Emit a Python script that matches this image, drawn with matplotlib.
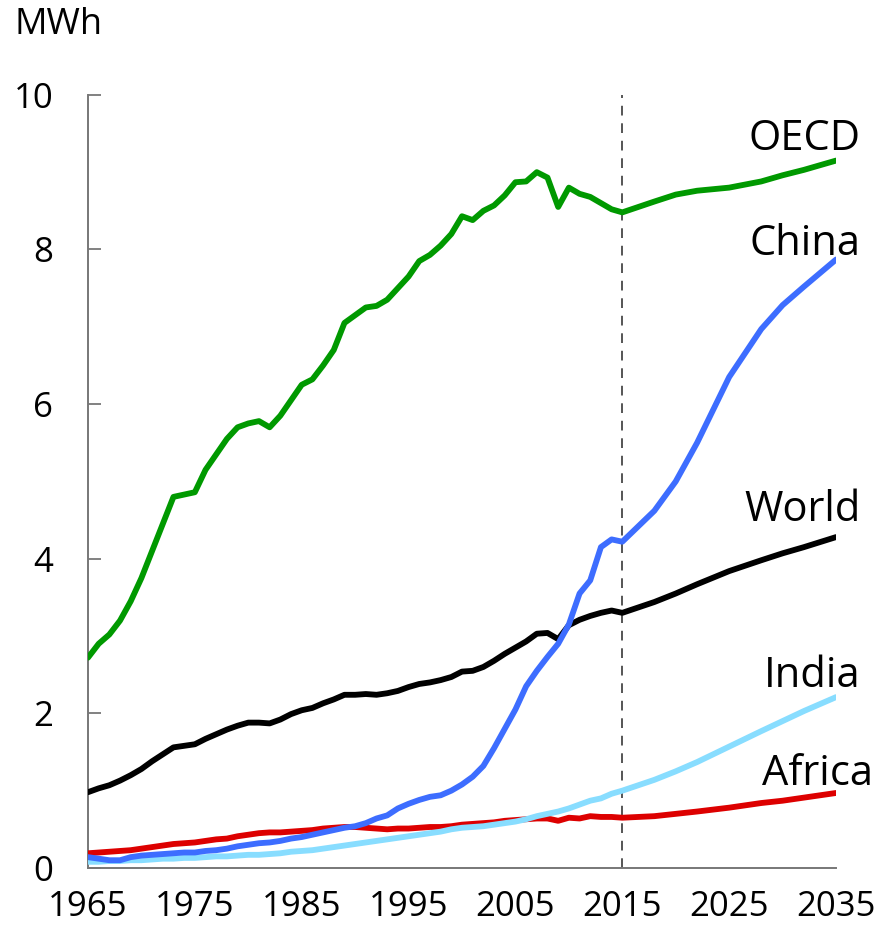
import matplotlib
matplotlib.use("Agg")
import matplotlib.pyplot as plt
import numpy as np

plt.rcParams['font.family'] = ['Open Sans', 'DejaVu Sans']

# historical years 1965-2015, then outlook points
years = list(range(1965, 2016)) + [2018, 2020, 2022, 2025, 2028, 2030, 2032, 2035]

oecd = [2.72, 2.90, 3.02, 3.20, 3.45, 3.75, 4.10, 4.45, 4.80, 4.83, 4.86,
        5.15, 5.35, 5.55, 5.70, 5.75, 5.78, 5.70, 5.85, 6.05, 6.25,
        6.32, 6.50, 6.70, 7.05, 7.15, 7.25, 7.27, 7.35, 7.50, 7.65,
        7.85, 7.93, 8.05, 8.20, 8.43, 8.38, 8.50, 8.57, 8.70, 8.87,
        8.88, 9.00, 8.93, 8.55, 8.80, 8.72, 8.68, 8.60, 8.52, 8.48,
        8.62, 8.71, 8.76, 8.80, 8.88, 8.96, 9.03, 9.15]
china = [0.14, 0.12, 0.10, 0.10, 0.14, 0.16, 0.17, 0.18, 0.19, 0.20, 0.20,
         0.22, 0.23, 0.25, 0.28, 0.30, 0.32, 0.33, 0.35, 0.38, 0.40,
         0.43, 0.46, 0.49, 0.52, 0.54, 0.58, 0.64, 0.68, 0.77, 0.83,
         0.88, 0.92, 0.94, 1.00, 1.08, 1.18, 1.32, 1.55, 1.80, 2.05,
         2.35, 2.55, 2.73, 2.90, 3.15, 3.55, 3.72, 4.15, 4.25, 4.22,
         4.62, 5.00, 5.50, 6.35, 6.97, 7.28, 7.52, 7.87]
world = [0.98, 1.03, 1.07, 1.13, 1.20, 1.28, 1.38, 1.47, 1.56, 1.58, 1.60,
         1.67, 1.73, 1.79, 1.84, 1.88, 1.88, 1.87, 1.92, 1.99, 2.04,
         2.07, 2.13, 2.18, 2.24, 2.24, 2.25, 2.24, 2.26, 2.29, 2.34,
         2.38, 2.40, 2.43, 2.47, 2.54, 2.55, 2.60, 2.68, 2.77, 2.85,
         2.93, 3.03, 3.04, 2.96, 3.14, 3.21, 3.26, 3.30, 3.33, 3.30,
         3.44, 3.55, 3.67, 3.84, 3.98, 4.07, 4.15, 4.28]
india = [0.08, 0.08, 0.09, 0.09, 0.10, 0.10, 0.11, 0.12, 0.12, 0.13, 0.13,
         0.14, 0.15, 0.15, 0.16, 0.17, 0.17, 0.18, 0.19, 0.21, 0.22,
         0.23, 0.25, 0.27, 0.29, 0.31, 0.33, 0.35, 0.37, 0.39, 0.41,
         0.43, 0.45, 0.47, 0.50, 0.52, 0.53, 0.54, 0.56, 0.58, 0.60,
         0.63, 0.67, 0.70, 0.73, 0.77, 0.82, 0.87, 0.90, 0.96, 1.00,
         1.14, 1.25, 1.37, 1.57, 1.77, 1.90, 2.03, 2.21]
africa = [0.19, 0.20, 0.21, 0.22, 0.23, 0.25, 0.27, 0.29, 0.31, 0.32, 0.33,
          0.35, 0.37, 0.38, 0.41, 0.43, 0.45, 0.46, 0.46, 0.47, 0.48,
          0.49, 0.51, 0.52, 0.53, 0.53, 0.52, 0.51, 0.50, 0.51, 0.51,
          0.52, 0.53, 0.53, 0.54, 0.56, 0.57, 0.58, 0.59, 0.61, 0.62,
          0.63, 0.64, 0.64, 0.61, 0.65, 0.64, 0.67, 0.66, 0.66, 0.65,
          0.67, 0.70, 0.73, 0.78, 0.84, 0.87, 0.91, 0.97]

# name, values, colour, label baseline (data units), label right edge (year)
series = [
    ("OECD", oecd, "#009900", 9.29, 2037.3),
    ("China", china, "#3D6DFF", 7.93, 2037.3),
    ("World", world, "#000000", 4.49, 2037.3),
    ("India", india, "#88DDFF", 2.34, 2037.3),
    ("Africa", africa, "#DD0000", 1.07, 2038.5),
]

fig = plt.figure(figsize=(8.78, 9.30), dpi=100)
ax = fig.add_axes([0.1002, 0.0667, 0.852, 0.8313])

ax.axvline(2015, color="#555555", lw=1.4, ls=(0, (5, 4)), zorder=1)

for name, vals, col, ly, lx in reversed(series):
    ax.plot(years, vals, color=col, lw=4.2, solid_capstyle="round", solid_joinstyle="round", zorder=3)
    ax.text(lx, ly, name, ha="right", va="baseline", fontsize=30, clip_on=False)

ax.set_xlim(1965, 2035)
ax.set_ylim(0, 10)
ax.set_xticks(range(1965, 2036, 10))
ax.set_yticks(range(0, 11, 2))
ax.tick_params(axis="y", direction="in", length=9, width=1.3, color="#777777", pad=25, labelsize=25)
ax.tick_params(axis="x", length=0, pad=16, labelsize=25)
for s in ["top", "right"]:
    ax.spines[s].set_visible(False)
for s in ["left", "bottom"]:
    ax.spines[s].set_color("#777777")
    ax.spines[s].set_linewidth(1.4)

fig.text(15 / 878, 1 - 25 / 930, "MWh", ha="left", va="center", fontsize=26)

fig.savefig("out.png", dpi=100)
